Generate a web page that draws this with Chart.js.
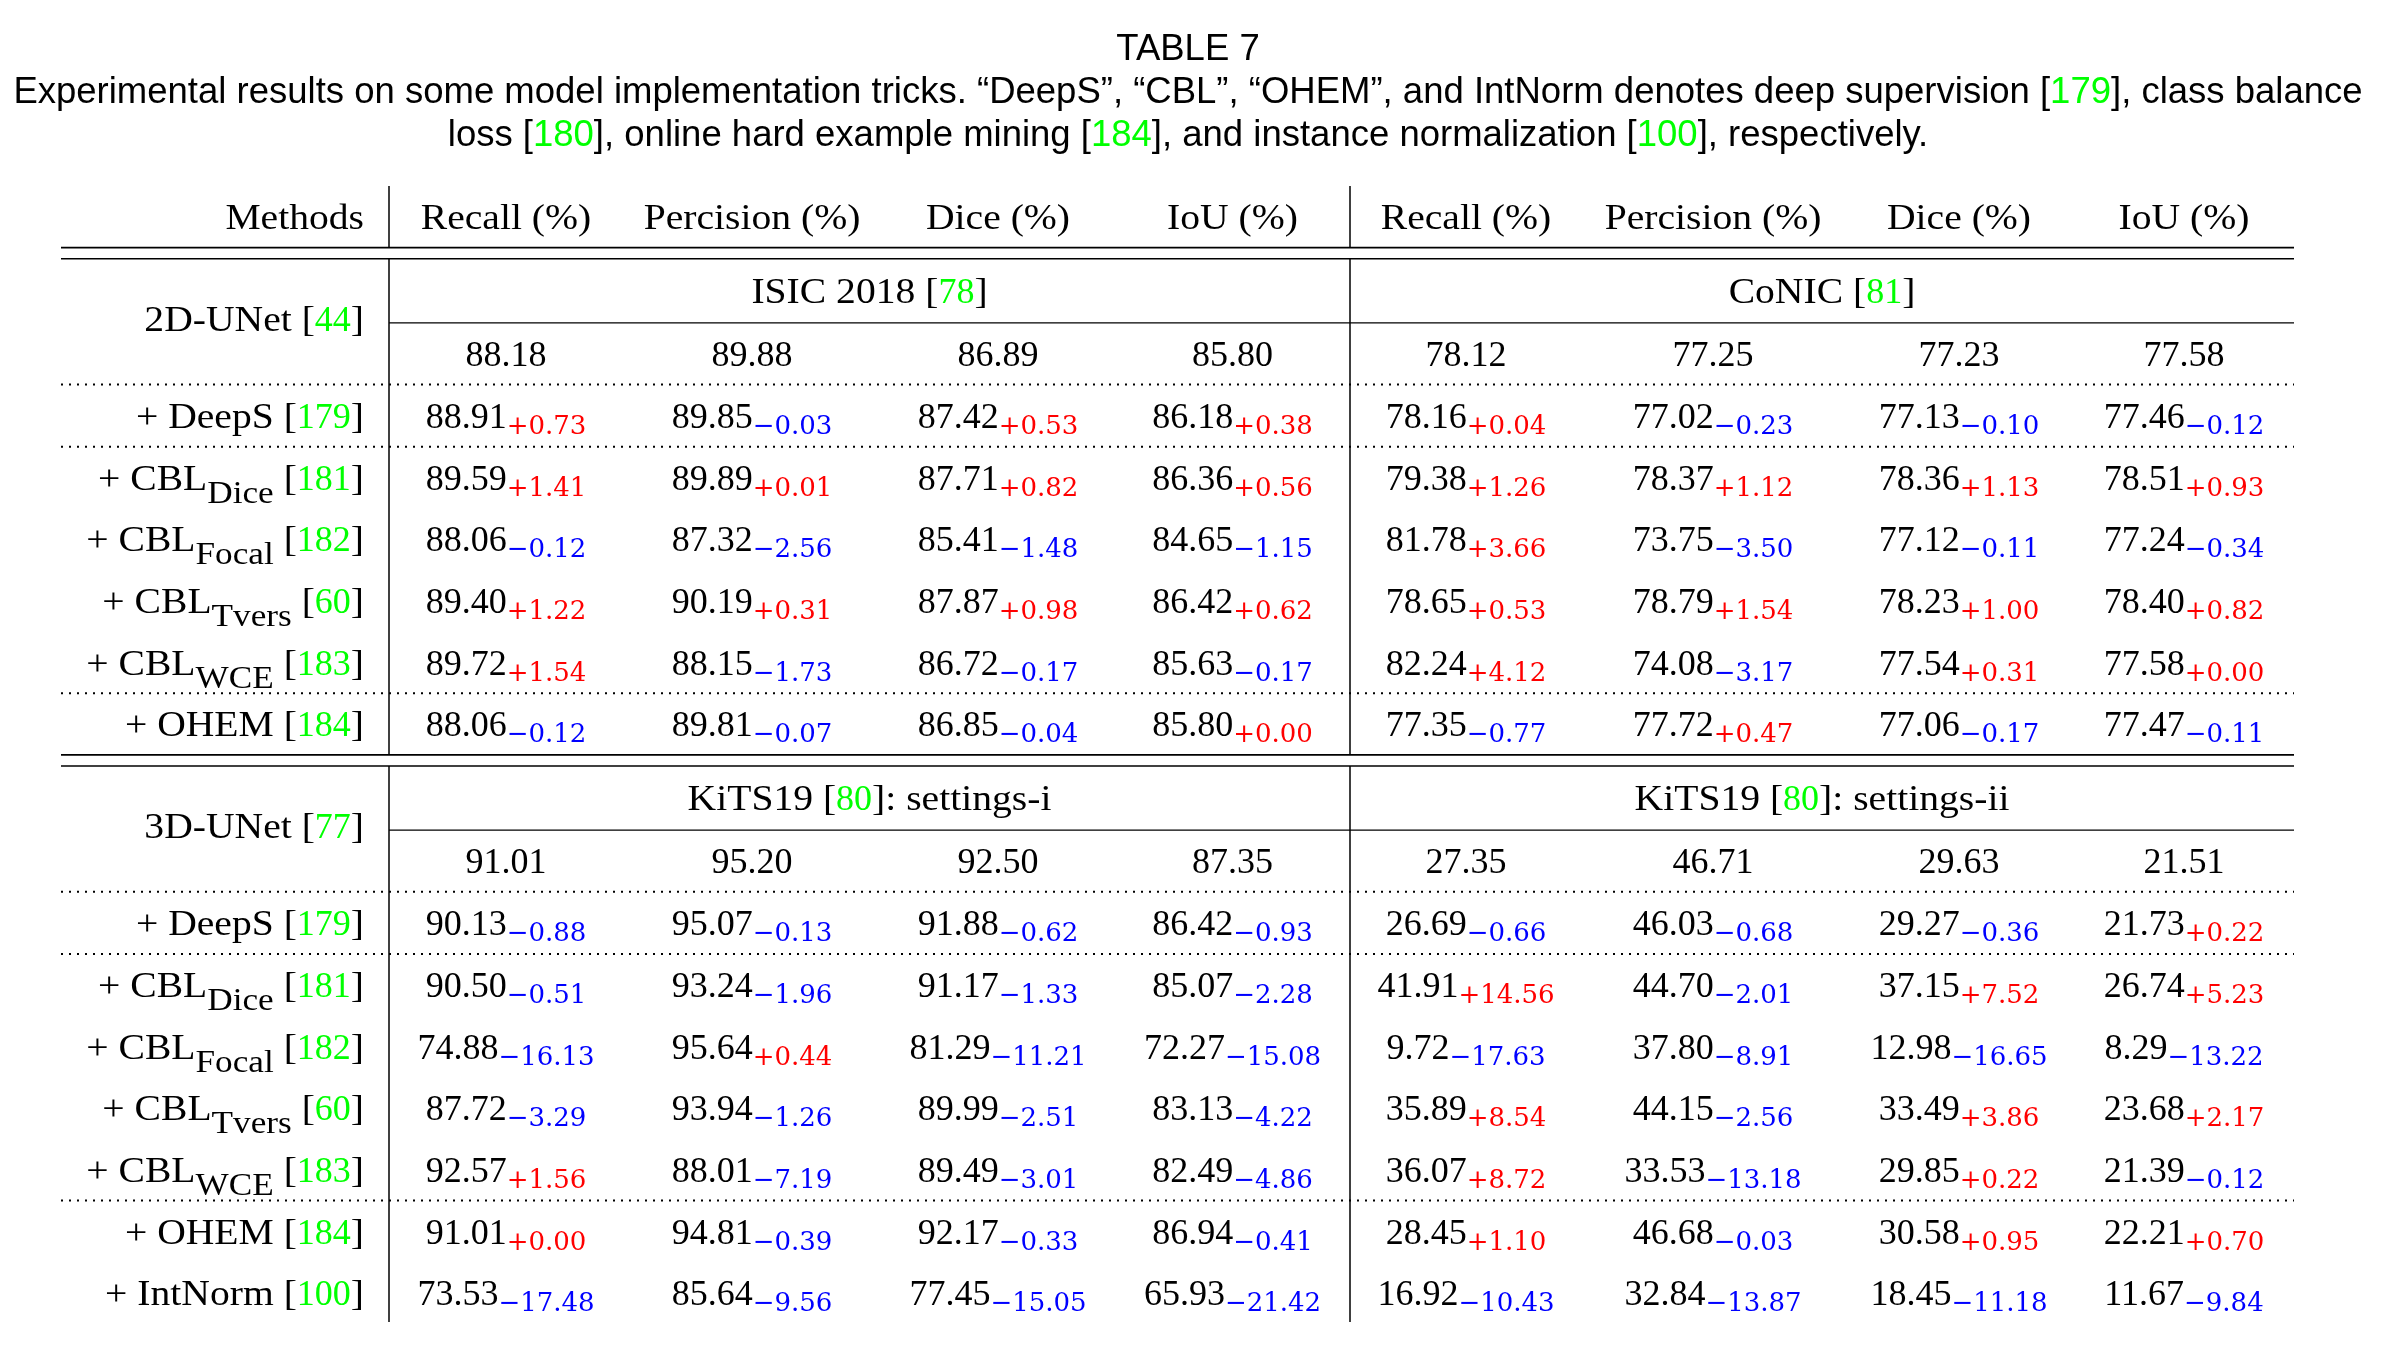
<!DOCTYPE html>
<html>
<head>
<meta charset="utf-8">
<script src="https://cdn.jsdelivr.net/npm/chart.js@4.4.1/dist/chart.umd.min.js"></script>
<style>
  html, body { margin: 0; padding: 0; background: #fff; }
  canvas { display: block; }
</style>
</head>
<body>
<canvas id="table7" width="2400" height="1358"></canvas>
<script>
/* ===========================
   DATA
=========================== */

const metricHeaders = ['Recall (%)', 'Percision (%)', 'Dice (%)', 'IoU (%)',
                       'Recall (%)', 'Percision (%)', 'Dice (%)', 'IoU (%)'];

const baseModels = ['2D-UNet', '3D-UNet'];
const baseRefs = ['44', '77'];

const datasetNames = [['ISIC 2018', 'CoNIC'], ['KiTS19', 'KiTS19']];
const datasetRefs = [['78', '81'], ['80', '80']];
const datasetSuffix = [['', ''], [': settings-i', ': settings-ii']];

const trickNames = ['DeepS', 'CBL', 'CBL', 'CBL', 'CBL', 'OHEM', 'IntNorm'];
const trickSubs = ['', 'Dice', 'Focal', 'Tvers', 'WCE', '', ''];
const trickRefs = ['179', '181', '182', '60', '183', '184', '100'];

const base2D = [88.18, 89.88, 86.89, 85.80, 78.12, 77.25, 77.23, 77.58];
const scores2D = [
  [88.91, 89.85, 87.42, 86.18, 78.16, 77.02, 77.13, 77.46],
  [89.59, 89.89, 87.71, 86.36, 79.38, 78.37, 78.36, 78.51],
  [88.06, 87.32, 85.41, 84.65, 81.78, 73.75, 77.12, 77.24],
  [89.40, 90.19, 87.87, 86.42, 78.65, 78.79, 78.23, 78.40],
  [89.72, 88.15, 86.72, 85.63, 82.24, 74.08, 77.54, 77.58],
  [88.06, 89.81, 86.85, 85.80, 77.35, 77.72, 77.06, 77.47]
];
const deltas2D = [
  [0.73, -0.03, 0.53, 0.38, 0.04, -0.23, -0.10, -0.12],
  [1.41, 0.01, 0.82, 0.56, 1.26, 1.12, 1.13, 0.93],
  [-0.12, -2.56, -1.48, -1.15, 3.66, -3.50, -0.11, -0.34],
  [1.22, 0.31, 0.98, 0.62, 0.53, 1.54, 1.00, 0.82],
  [1.54, -1.73, -0.17, -0.17, 4.12, -3.17, 0.31, 0.00],
  [-0.12, -0.07, -0.04, 0.00, -0.77, 0.47, -0.17, -0.11]
];

const base3D = [91.01, 95.20, 92.50, 87.35, 27.35, 46.71, 29.63, 21.51];
const scores3D = [
  [90.13, 95.07, 91.88, 86.42, 26.69, 46.03, 29.27, 21.73],
  [90.50, 93.24, 91.17, 85.07, 41.91, 44.70, 37.15, 26.74],
  [74.88, 95.64, 81.29, 72.27, 9.72, 37.80, 12.98, 8.29],
  [87.72, 93.94, 89.99, 83.13, 35.89, 44.15, 33.49, 23.68],
  [92.57, 88.01, 89.49, 82.49, 36.07, 33.53, 29.85, 21.39],
  [91.01, 94.81, 92.17, 86.94, 28.45, 46.68, 30.58, 22.21],
  [73.53, 85.64, 77.45, 65.93, 16.92, 32.84, 18.45, 11.67]
];
const deltas3D = [
  [-0.88, -0.13, -0.62, -0.93, -0.66, -0.68, -0.36, 0.22],
  [-0.51, -1.96, -1.33, -2.28, 14.56, -2.01, 7.52, 5.23],
  [-16.13, 0.44, -11.21, -15.08, -17.63, -8.91, -16.65, -13.22],
  [-3.29, -1.26, -2.51, -4.22, 8.54, -2.56, 3.86, 2.17],
  [1.56, -7.19, -3.01, -4.86, 8.72, -13.18, 0.22, -0.12],
  [0.00, -0.39, -0.33, -0.41, 1.10, -0.03, 0.95, 0.70],
  [-17.48, -9.56, -15.05, -21.42, -10.43, -13.87, -11.18, -9.84]
];

const blockBase = [base2D, base3D];
const blockScores = [scores2D, scores3D];
const blockDeltas = [deltas2D, deltas3D];

/* ===========================
   LAYOUT (row units / column widths)
=========================== */

const colWidths = [328, 234, 258, 234, 235, 232, 262, 230, 220];
const tableWidth = colWidths.reduce((a, b) => a + b, 0);
const colLeft = colWidths.map((w, i) => colWidths.slice(0, i).reduce((a, b) => a + b, 0));
const colCenter = i => colLeft[i] + colWidths[i] / 2;

const RULE_A = 0.5, RULE_B = 0.68, NEXT_BLOCK = 1.2;
const blockStart = [];
const blockLast = [];
let cursor = 0;
blockScores.forEach((rows, b) => {
  const s = cursor + NEXT_BLOCK;
  blockStart.push(s);
  blockLast.push(s + 2.03 + rows.length - 1);
  cursor = blockLast[b];
});
const yMax = blockLast[1] + 0.47;

const SERIF = '"Liberation Serif", "Times New Roman", serif';
const MATH = '"DejaVu Serif", serif';
const SANS = '"Liberation Sans", Arial, sans-serif';
const GREEN = '#00ff00', RED = '#ff0000', BLUE = '#0000ff', BLACK = '#000000';
const WORD_STRETCH = 1.1;   // Palatino is wider than Times

/* ===========================
   HELPERS
=========================== */

function drawRich(ctx, segs, x, y, align) {
  let total = 0;
  segs.forEach(s => {
    ctx.font = s.font;
    s.w = ctx.measureText(s.text).width * s.sx;
    total += s.w;
  });
  let cx = align === 'center' ? x - total / 2 : align === 'right' ? x - total : x;
  segs.forEach(s => {
    ctx.save();
    ctx.font = s.font;
    ctx.fillStyle = s.color;
    ctx.translate(cx, y + s.dy);
    ctx.scale(s.sx, 1);
    ctx.fillText(s.text, 0, 0);
    ctx.restore();
    cx += s.w;
  });
  return total;
}

function seg(text, color, font, dy, sx) {
  return { text, color: color || BLACK, font: font || `36px ${SERIF}`, dy: dy || 0, sx: sx || 1 };
}

// word segment in table serif, slightly stretched
function word(text, color, font, dy) {
  return seg(text, color, font, dy, WORD_STRETCH);
}

function hline(ctx, x1, x2, y, width, dotted) {
  ctx.save();
  ctx.strokeStyle = BLACK;
  ctx.lineWidth = width;
  if (dotted) ctx.setLineDash([2, 6]);
  ctx.beginPath();
  ctx.moveTo(x1, y);
  ctx.lineTo(x2, y);
  ctx.stroke();
  ctx.restore();
}

function vline(ctx, x, y1, y2) {
  ctx.save();
  ctx.strokeStyle = BLACK;
  ctx.lineWidth = 1.5;
  ctx.beginPath();
  ctx.moveTo(x, y1);
  ctx.lineTo(x, y2);
  ctx.stroke();
  ctx.restore();
}

/* ===========================
   TABLE PLUGIN
=========================== */

const tablePlugin = {
  id: 'tableText',
  afterDraw(chart) {
    const ctx = chart.ctx;
    const xs = chart.scales.x;
    const ys = chart.scales.y;
    const px = v => xs.getPixelForValue(v);
    const py = v => ys.getPixelForValue(v);
    const BASE_OFF = 12.2;

    ctx.save();
    ctx.textBaseline = 'alphabetic';
    ctx.textAlign = 'left';

    // caption
    const capCenter = 1188;
    const capFont = `36.5px ${SANS}`;
    drawRich(ctx, [seg('TABLE 7', BLACK, capFont)], capCenter, 60, 'center');
    drawRich(ctx, [
      seg('Experimental results on some model implementation tricks. \u201cDeepS\u201d, \u201cCBL\u201d, \u201cOHEM\u201d, and IntNorm denotes deep supervision [', BLACK, capFont),
      seg('179', GREEN, capFont),
      seg('], class balance', BLACK, capFont)
    ], capCenter, 103, 'center');
    drawRich(ctx, [
      seg('loss [', BLACK, capFont), seg('180', GREEN, capFont),
      seg('], online hard example mining [', BLACK, capFont), seg('184', GREEN, capFont),
      seg('], and instance normalization [', BLACK, capFont), seg('100', GREEN, capFont),
      seg('], respectively.', BLACK, capFont)
    ], capCenter, 146, 'center');

    const left = px(0), right = px(tableWidth);
    const v1 = px(colLeft[1]), v2 = px(colLeft[5]);
    const methodX = px(colLeft[1]) - 25;

    // header row
    drawRich(ctx, [word('Methods')], methodX, py(0) + BASE_OFF, 'right');
    metricHeaders.forEach((h, i) => {
      drawRich(ctx, [word(h)], px(colCenter(i + 1)), py(0) + BASE_OFF, 'center');
    });
    vline(ctx, v1, py(-0.5), py(RULE_A));
    vline(ctx, v2, py(-0.5), py(RULE_A));
    hline(ctx, left, right, py(RULE_A), 1.6);
    hline(ctx, left, right, py(RULE_B), 1.6);

    blockStart.forEach((s, b) => {
      const rows = blockScores[b];
      const last = blockLast[b];

      // dataset headers
      [0, 1].forEach(d => {
        const cx = d === 0 ? (px(colLeft[1]) + px(colLeft[5])) / 2 : (px(colLeft[5]) + right) / 2;
        drawRich(ctx, [
          word(datasetNames[b][d] + ' ['), seg(datasetRefs[b][d], GREEN), word(']' + datasetSuffix[b][d])
        ], cx, py(s) + BASE_OFF, 'center');
      });
      hline(ctx, v1, right, py(s + 0.52), 1.4);

      // base model (multirow)
      drawRich(ctx, [word(baseModels[b] + ' ['), seg(baseRefs[b], GREEN), word(']')],
        methodX, py(s + 0.45) + BASE_OFF, 'right');

      // base values
      blockBase[b].forEach((v, c) => {
        drawRich(ctx, [seg(v.toFixed(2))], px(colCenter(c + 1)), py(s + 1.02) + BASE_OFF, 'center');
      });

      // dotted separators
      const ohemRow = s + 2.03 + 5;
      [s + 1.52, s + 2.53, ohemRow - 0.5].forEach(y => hline(ctx, left, right, py(y), 2, true));

      // trick rows
      rows.forEach((vals, k) => {
        const y = py(s + 2.03 + k) + BASE_OFF;
        const name = [word('+ ' + trickNames[k])];
        if (trickSubs[k]) name.push(word(trickSubs[k], BLACK, `32px ${SERIF}`, 13));
        name.push(word(' ['), seg(trickRefs[k], GREEN), word(']'));
        drawRich(ctx, name, methodX, y, 'right');

        vals.forEach((v, c) => {
          const d = blockDeltas[b][k][c];
          const txt = (d >= 0 ? '+' : '\u2212') + Math.abs(d).toFixed(2);
          drawRich(ctx, [
            seg(v.toFixed(2)),
            seg(txt, d >= 0 ? RED : BLUE, `26px ${MATH}`, 6)
          ], px(colCenter(c + 1)), y, 'center');
        });
      });

      // vertical rules and closing double rule
      const yEnd = b === blockStart.length - 1 ? py(last + 0.47) : py(last + RULE_A);
      vline(ctx, v1, py(s - NEXT_BLOCK + RULE_B), yEnd);
      vline(ctx, v2, py(s - NEXT_BLOCK + RULE_B), yEnd);
      if (b < blockStart.length - 1) {
        hline(ctx, left, right, py(last + RULE_A), 1.6);
        hline(ctx, left, right, py(last + RULE_B), 1.6);
      }
    });

    ctx.restore();
  }
};

/* ===========================
   CHART
=========================== */

const cellPoints = [];
blockStart.forEach((s, b) => {
  blockBase[b].forEach((v, c) => cellPoints.push({ x: colCenter(c + 1), y: s + 1.02 }));
  blockScores[b].forEach((vals, k) => {
    vals.forEach((v, c) => cellPoints.push({ x: colCenter(c + 1), y: s + 2.03 + k }));
  });
});

new Chart(document.getElementById('table7'), {
  type: 'scatter',
  data: {
    datasets: [{
      label: 'cells',
      data: cellPoints,
      pointRadius: 0,
      pointHoverRadius: 0
    }]
  },
  options: {
    responsive: false,
    animation: false,
    devicePixelRatio: 1,
    events: [],
    layout: { padding: { left: 61, right: 2400 - 61 - tableWidth, top: 186, bottom: 36 } },
    plugins: {
      legend: { display: false },
      tooltip: { enabled: false },
      title: { display: false }
    },
    scales: {
      x: { type: 'linear', display: false, min: 0, max: tableWidth },
      y: { type: 'linear', display: false, reverse: true, min: -0.5, max: yMax }
    }
  },
  plugins: [tablePlugin]
});
</script>
</body>
</html>
